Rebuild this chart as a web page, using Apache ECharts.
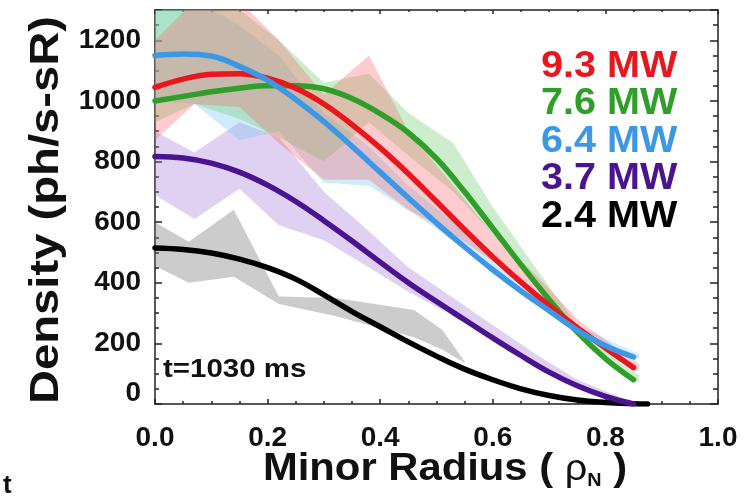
<!DOCTYPE html>
<html>
<head>
<meta charset="utf-8">
<script src="https://cdn.jsdelivr.net/npm/echarts@6/dist/echarts.min.js"></script>
<style>
  html, body { margin: 0; padding: 0; background: #fff; }
  #chart { width: 749px; height: 496px; }
</style>
</head>
<body>
<div id="chart"></div>
<script>
// Radial profiles of the fitted density for each heating power
const radius = [0, 0.05, 0.1, 0.15, 0.2, 0.25, 0.3, 0.35, 0.4, 0.45, 0.5, 0.55, 0.6, 0.65, 0.7, 0.75, 0.8, 0.85];
const fit93 = [1045, 1072, 1088, 1090, 1075, 1042, 990, 922, 845, 760, 668, 575, 485, 402, 325, 252, 185, 120];
const fit76 = [1000, 1015, 1030, 1042, 1050, 1050, 1040, 1008, 958, 895, 810, 700, 580, 460, 345, 237, 150, 80];
const fit64 = [1150, 1155, 1148, 1114, 1068, 1005, 932, 850, 765, 680, 597, 518, 443, 373, 308, 243, 192, 155];
const fit37 = [817, 812, 795, 765, 722, 668, 605, 538, 468, 400, 338, 278, 218, 160, 105, 60, 25, 0];
const radius24 = [0, 0.05, 0.1, 0.15, 0.2, 0.25, 0.3, 0.35, 0.4, 0.45, 0.5, 0.55, 0.6, 0.65, 0.7, 0.75, 0.8, 0.85, 0.875];
const fit24 = [515, 510, 498, 478, 450, 412, 360, 305, 255, 205, 158, 115, 80, 50, 28, 13, 5, 1, 0];

// Measurement spread (lower / upper envelope) at the chord positions
const bandX = [0, 0.07, 0.15, 0.22, 0.3, 0.38, 0.45, 0.53, 0.6, 0.68, 0.75, 0.83, 0.86];
const lo93 = [870, 990, 980, 860, 740, 740, 640, 560, 470, 370, 255, 150, 110];
const hi93 = [1200, 1330, 1330, 1200, 1020, 1150, 900, 720, 560, 420, 280, 170, 130];
const lo76 = [930, 990, 940, 880, 800, 930, 820, 700, 560, 400, 235, 110, 70];
const hi76 = [1330, 1330, 1300, 1200, 1060, 1090, 960, 860, 650, 440, 260, 130, 95];
const lo64 = [1000, 990, 870, 900, 730, 720, 640, 540, 430, 340, 235, 170, 150];
const hi64 = [1330, 1330, 1250, 1150, 960, 850, 720, 600, 470, 370, 260, 190, 165];
const lo37 = [690, 610, 710, 590, 540, 450, 370, 290, 210, 130, 60, 10, 0];
const hi37 = [900, 830, 930, 880, 700, 570, 450, 350, 260, 160, 80, 20, 5];
const bandX24 = [0, 0.06, 0.14, 0.22, 0.32, 0.46, 0.51, 0.55];
const lo24 = [455, 400, 420, 330, 290, 220, 180, 135];
const hi24 = [600, 535, 641, 355, 350, 310, 245, 140];

const powers = ['9.3 MW', '7.6 MW', '6.4 MW', '3.7 MW', '2.4 MW'];
const lineColors = ['#e8161d', '#2f9f2a', '#3c98e6', '#4a1490', '#000000'];
const bandColors = ['rgba(245,110,115,0.35)', 'rgba(110,205,110,0.35)', 'rgba(120,200,240,0.35)',
                    'rgba(165,120,215,0.35)', 'rgba(120,120,120,0.38)'];

const xTicks = ['0.0', '0.2', '0.4', '0.6', '0.8', '1.0'];
const yTicks = [0, 200, 400, 600, 800, 1000, 1200];

const FONT = '"Liberation Sans", Arial, Helvetica, sans-serif';

function pairs(xs, ys) { return xs.map((x, i) => [x, ys[i]]); }

// Shaded envelope: one polygon through the upper edge and back along the lower edge
function band(idx, xs, lo, hi) {
  return {
    type: 'custom', silent: true, clip: true, z: 1,
    data: xs.map((x, i) => [x, lo[i], hi[i]]),
    encode: { x: 0, y: [1, 2] },
    renderItem: function (params, api) {
      if (params.dataIndex !== 0) return null;
      const pts = [];
      for (let i = 0; i < xs.length; i++) pts.push(api.coord([xs[i], hi[i]]));
      for (let i = xs.length - 1; i >= 0; i--) pts.push(api.coord([xs[i], lo[i]]));
      return { type: 'polygon', shape: { points: pts }, style: { fill: bandColors[idx] } };
    }
  };
}

function fit(idx, xs, ys, z) {
  return { type: 'line', name: powers[idx], data: pairs(xs, ys), smooth: 0.4, symbol: 'none',
    lineStyle: { color: lineColors[idx], width: 5.5, cap: 'round' }, z: z };
}

const chart = echarts.init(document.getElementById('chart'), null, { renderer: 'canvas' });

const axisLineStyle = { color: '#222', width: 1.5 };
const tickLabel = { fontFamily: FONT, fontWeight: 'bold', fontSize: 28, color: '#111' };

const option = {
  animation: false,
  backgroundColor: '#fff',
  grid: { left: 155, right: 31, top: 10, bottom: 92 },
  xAxis: [
    { type: 'value', min: 0, max: 1, interval: 0.2, position: 'bottom',
      axisLine: { lineStyle: axisLineStyle }, splitLine: { show: false },
      axisTick: { inside: true, length: 5, lineStyle: axisLineStyle },
      minorTick: { show: true, splitNumber: 4, length: 3, lineStyle: axisLineStyle },
      axisLabel: Object.assign({ margin: 20, formatter: v => xTicks[Math.round(v / 0.2)] }, tickLabel) },
    { type: 'value', min: 0, max: 1, interval: 0.2, position: 'top',
      axisLine: { onZero: false, lineStyle: axisLineStyle }, splitLine: { show: false },
      axisTick: { inside: true, length: 4, lineStyle: axisLineStyle },
      minorTick: { show: true, splitNumber: 4, length: 2, lineStyle: axisLineStyle },
      axisLabel: { show: false } }
  ],
  yAxis: [
    { type: 'value', min: 0, max: 1300, interval: 200, position: 'left',
      axisLine: { show: true, lineStyle: axisLineStyle }, splitLine: { show: false },
      axisTick: { show: true, inside: true, length: 7, lineStyle: axisLineStyle },
      minorTick: { show: true, splitNumber: 4, length: 4, lineStyle: axisLineStyle },
      axisLabel: Object.assign({
        margin: 14,
        formatter: v => (yTicks.indexOf(v) < 0 ? '' : (v === 0 ? '{z|0}' : String(v))),
        rich: { z: { fontFamily: FONT, fontWeight: 'bold', fontSize: 28, color: '#111', padding: [0, 0, 22, 0] } }
      }, tickLabel) },
    { type: 'value', min: 0, max: 1300, interval: 200, position: 'right',
      axisLine: { show: true, onZero: false, lineStyle: axisLineStyle }, splitLine: { show: false },
      axisTick: { show: true, inside: true, length: 8, lineStyle: axisLineStyle },
      minorTick: { show: true, splitNumber: 4, length: 5, lineStyle: axisLineStyle },
      axisLabel: { show: false } }
  ],
  series: [
    band(4, bandX24, lo24, hi24),
    band(3, bandX, lo37, hi37),
    band(2, bandX, lo64, hi64),
    band(1, bandX, lo76, hi76),
    band(0, bandX, lo93, hi93),
    fit(4, radius24, fit24, 5), fit(3, radius, fit37, 6), fit(1, radius, fit76, 7),
    fit(0, radius, fit93, 8), fit(2, radius, fit64, 9)
  ],
  graphic: [].concat(
    powers.map((p, i) => ({
      type: 'text', x: 541, y: 67 + i * 37.5, z: 20, scaleX: 1.1,
      style: { text: p, fill: lineColors[i], font: 'bold 36px ' + FONT, align: 'left', verticalAlign: 'middle' }
    })),
    [
      { type: 'text', x: 163, y: 370, z: 20, scaleX: 1.18,
        style: { text: 't=1030 ms', fill: '#111', font: 'bold 25px ' + FONT, align: 'left', verticalAlign: 'middle' } },
      { type: 'text', x: 47, y: 210, rotation: Math.PI / 2, z: 20, scaleX: 1.18,
        style: { text: 'Density (ph/s-sR)', fill: '#111', font: 'bold 40px ' + FONT, align: 'center', verticalAlign: 'middle' } },
      { type: 'text', x: 445, y: 470, z: 20, scaleX: 1.1,
        style: {
          text: '{a|Minor Radius ( }{g|ρ}{s|N}{a| )}',
          align: 'center', verticalAlign: 'middle',
          rich: {
            a: { font: 'bold 38px ' + FONT, fill: '#111' },
            g: { font: '36px ' + FONT, fill: '#111' },
            s: { font: 'bold 18px ' + FONT, fill: '#111', padding: [22, 0, 0, 0] }
          }
        } },
      { type: 'text', x: 3, y: 486, z: 20,
        style: { text: 't', fill: '#111', font: 'bold 26px ' + FONT, align: 'left', verticalAlign: 'middle' } }
    ]
  )
};

chart.setOption(option);
</script>
</body>
</html>
